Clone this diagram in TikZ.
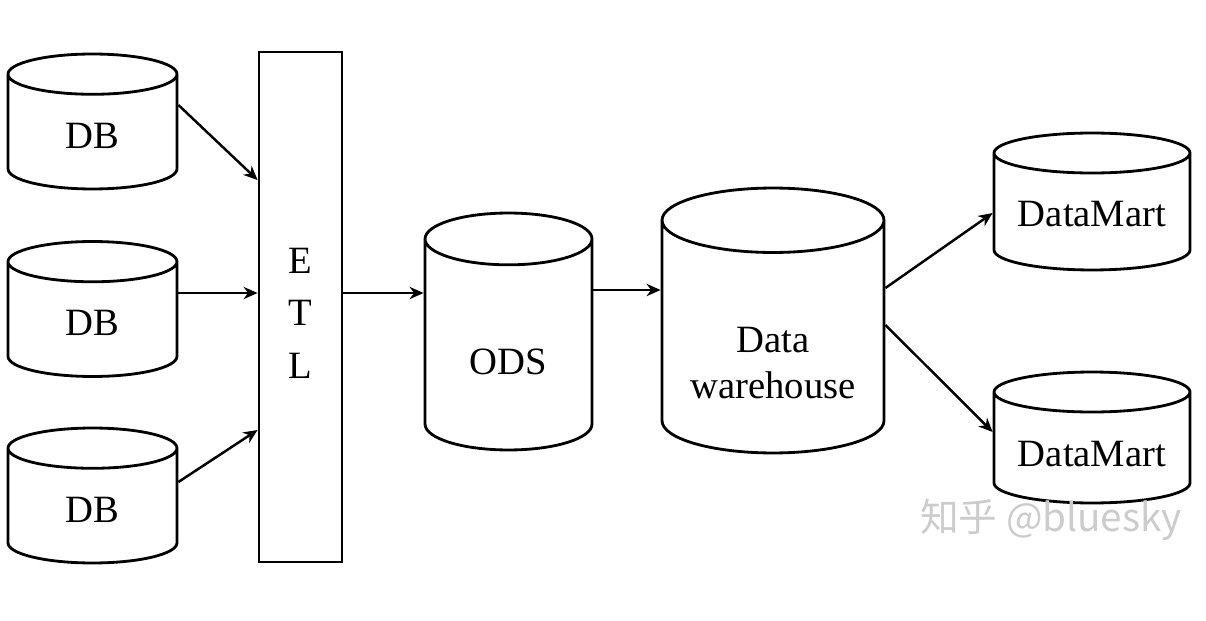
\documentclass[tikz,border=0pt]{standalone}
\usepackage{fontspec}
\setmainfont{Liberation Serif}
\newfontfamily\cjkfont{Noto Sans CJK SC}
\usepackage{tikz}
\usetikzlibrary{shapes.geometric, arrows.meta, positioning}

\begin{document}
\begin{tikzpicture}[x=0.02cm, y=-0.02cm,
    store/.style={draw, line width=1.6pt, shape=cylinder, shape border rotate=90,
                  aspect=0.75, minimum width=3.38cm, minimum height=2.7cm,
                  inner sep=0pt, text height=18pt, text depth=0pt,
                  anchor=shape center, font=\fontsize{22}{26}\selectfont},
    flow/.style={-{Stealth[length=8pt, width=7pt]}, line width=1.4pt}
]
    \useasboundingbox (0,0) rectangle (1206,621);

    % sources
    \node[store] (db1) at (92.5,121.5) {DB};
    \node[store] (db2) at (92.5,309) {DB};
    \node[store] (db3) at (92.5,495.5) {DB};

    % extract / transform / load
    \node[draw, line width=1.6pt, minimum width=1.66cm, minimum height=10.2cm,
          align=center, text height=81.5pt,
          font=\fontsize{22}{30}\selectfont] (etl) at (300.5,307) {E\\T\\L};

    % storage
    \node[store, aspect=0.67, text height=33pt, minimum width=3.34cm,
          minimum height=4.74cm] (ods) at (508.5,331.5) {ODS};
    \node[store, aspect=0.39, text height=73pt, text depth=\dp\strutbox, minimum width=4.44cm,
          minimum height=5.3cm, align=center] (dw) at (773,320.5) {Data\\warehouse};

    % marts
    \node[store, aspect=0.27, text height=16.5pt, minimum width=3.92cm,
          minimum height=2.74cm] (dm1) at (1092,201.5) {DataMart};
    \node[store, aspect=0.27, text height=20.5pt, minimum width=3.92cm,
          minimum height=2.62cm] (dm2) at (1092,437.5) {DataMart};

    \node[text=gray!40, font=\cjkfont\fontsize{22}{26}\selectfont] (mark) at (1051,520) {知乎 @bluesky};

    % connectors
    \draw[flow] ([yshift=0.33cm]db1.shape center -| db1.east) -- ([yshift=2.54cm]etl.west);
    \draw[flow] ([yshift=0.32cm]db2.shape center -| db2.east) -- ([yshift=0.32cm]db2.shape center -| etl.west);
    \draw[flow] ([yshift=0.27cm]db3.shape center -| db3.east) -- ([yshift=-2.46cm]etl.west);
    \draw[flow] ([yshift=0.28cm]etl.east) -- ([yshift=0.28cm]etl.east -| ods.west);
    \draw[flow] ([yshift=0.83cm]ods.shape center -| ods.east) -- ([yshift=0.83cm]ods.shape center -| dw.west);
    \draw[flow] ([yshift=0.65cm]dw.shape center -| dw.east) -- ([yshift=-0.23cm]dm1.shape center -| dm1.west);
    \draw[flow] ([yshift=-0.09cm]dw.shape center -| dw.east) -- ([yshift=0.11cm]dm2.shape center -| dm2.west);
\end{tikzpicture}
\end{document}
